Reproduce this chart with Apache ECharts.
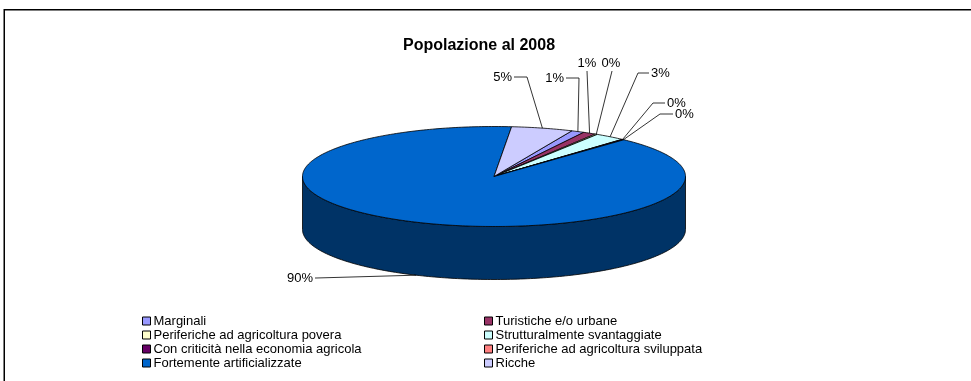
<!DOCTYPE html>
<html>
<head>
<meta charset="utf-8">
<script src="https://cdn.jsdelivr.net/npm/echarts@6/dist/echarts.min.js"></script>
<style>
  html, body { margin: 0; padding: 0; background: #fff; }
  #chart { width: 971px; height: 381px; }
</style>
</head>
<body>
<div id="chart"></div>
<script>
// Population share by area type, 2008 (percent)
const categories = [
  'Marginali',
  'Turistiche e/o urbane',
  'Periferiche ad agricoltura povera',
  'Strutturalmente svantaggiate',
  'Con criticità nella economia agricola',
  'Periferiche ad agricoltura sviluppata',
  'Fortemente artificializzate',
  'Ricche'
];
const shares = [1.1, 1.1, 0.2, 2.6, 0.1, 0.1, 89.6, 5.2];
const colors = ['#9999FF', '#993366', '#FFFFCC', '#CCFFFF', '#660066', '#FF8080', '#0066CC', '#CCCCFF'];
const titleText = 'Popolazione al 2008';

// Tilted pie geometry (pixels)
const PIE = { cx: 494, cy: 176.5, rx: 191.5, ry: 50, depth: 53, startDeg: 66 };
const FONT = 'Liberation Sans, Arial, sans-serif';

// Label placement relative to the pie centre: text anchor (dx, dy), alignment, leader elbow (ex, ey)
const labelLayout = [
  { dx: 70,   dy: -98.5,  align: 'right',  ex: 85,   ey: -98.5 },
  { dx: 93,   dy: -113.5, align: 'center', ex: 93,   ey: -105.5 },
  { dx: 117,  dy: -113.5, align: 'center', ex: 118,  ey: -105.5 },
  { dx: 157,  dy: -103.5, align: 'left',   ex: 144,  ey: -103.5 },
  { dx: 173,  dy: -73.5,  align: 'left',   ex: 159,  ey: -73.5 },
  { dx: 181,  dy: -62.5,  align: 'left',   ex: 166,  ey: -62.5 },
  { dx: -181, dy: 101.5,  align: 'right',  ex: -178, ey: 101.5 },
  { dx: 18,   dy: -99.5,  align: 'right',  ex: 33,   ey: -99.5 }
];

const total = shares.reduce((a, b) => a + b, 0);
const starts = [];
let acc = 0;
shares.forEach(v => { starts.push(PIE.startDeg - acc / total * 360); acc += v; });

function pt(deg, drop) {
  const r = deg * Math.PI / 180;
  return [PIE.cx + PIE.rx * Math.cos(r), PIE.cy - PIE.ry * Math.sin(r) + (drop || 0)];
}
function arc(from, to, drop) {
  const n = Math.max(2, Math.ceil(Math.abs(from - to)) + 1);
  const out = [];
  for (let k = 0; k < n; k++) out.push(pt(from + (to - from) * k / (n - 1), drop));
  return out;
}
function shade(hex, f) {
  const n = parseInt(hex.slice(1), 16);
  const r = Math.round(((n >> 16) & 255) * f);
  const g = Math.round(((n >> 8) & 255) * f);
  const b = Math.round((n & 255) * f);
  return 'rgb(' + r + ',' + g + ',' + b + ')';
}

function sliceRenderer(i) {
  return function (params, api) {
    const v = api.value(0);
    const a0 = starts[i];
    const a1 = a0 - v / total * 360;
    const children = [];
    // visible front wall (lower half of the ellipse)
    for (let k = -2; k <= 1; k++) {
      const lo = -180 + 360 * k, hi = 360 * k;
      const s = Math.min(a0, hi), e = Math.max(a1, lo);
      if (s > e) {
        children.push({
          type: 'polygon', z2: 1,
          shape: { points: arc(s, e, 0).concat(arc(e, s, PIE.depth)) },
          style: { fill: shade(colors[i], 0.5), stroke: '#000', lineWidth: 0.8 }
        });
      }
    }
    // top face
    children.push({
      type: 'polygon', z2: 10,
      shape: { points: [[PIE.cx, PIE.cy]].concat(arc(a0, a1, 0)) },
      style: { fill: colors[i], stroke: '#000', lineWidth: 0.8 }
    });
    // label with leader line
    const mid = (a0 + a1) / 2;
    const front = Math.sin(mid * Math.PI / 180) < 0;
    const anchor = pt(mid, front ? PIE.depth : 0);
    const L = labelLayout[i];
    const tx = PIE.cx + L.dx, ty = PIE.cy + L.dy;
    const elbow = [PIE.cx + L.ex, PIE.cy + L.ey];
    const pts = [anchor, elbow];
    if (L.align === 'left') pts.push([tx - 2, ty]);
    if (L.align === 'right') pts.push([tx + 2, ty]);
    children.push({
      type: 'polyline', z2: 20,
      shape: { points: pts },
      style: { stroke: '#000', lineWidth: 0.8, fill: null }
    });
    children.push({
      type: 'text', z2: 21, x: tx, y: ty,
      style: {
        text: Math.round(v / total * 100) + '%',
        fill: '#000', fontSize: 13, fontFamily: FONT,
        align: L.align, verticalAlign: 'middle'
      }
    });
    return { type: 'group', children: children };
  };
}

const series = categories.map((name, i) => ({
  type: 'custom',
  name: name,
  coordinateSystem: 'none',
  animation: false,
  silent: true,
  itemStyle: { color: colors[i] },
  data: [[shares[i]]],
  renderItem: sliceRenderer(i)
}));

const legendBase = {
  orient: 'vertical', top: 314, padding: 0, itemGap: 0,
  itemWidth: 8, itemHeight: 8, icon: 'rect', selectedMode: false,
  itemStyle: { borderColor: '#000', borderWidth: 1 },
  textStyle: { fontSize: 13, fontFamily: FONT, color: '#000', lineHeight: 14, padding: [0, 0, 0, -2] }
};

const chart = echarts.init(document.getElementById('chart'), null, { renderer: 'canvas' });
chart.setOption({
  animation: false,
  backgroundColor: '#fff',
  title: {
    text: titleText, left: 403, top: 38, padding: 0,
    textStyle: { fontSize: 16, fontWeight: 'bold', fontFamily: FONT, color: '#000' }
  },
  legend: [
    Object.assign({}, legendBase, { left: 142, data: [categories[0], categories[2], categories[4], categories[6]] }),
    Object.assign({}, legendBase, { left: 484, data: [categories[1], categories[3], categories[5], categories[7]] })
  ],
  graphic: [{
    type: 'rect', silent: true, z: 0,
    shape: { x: 4.25, y: 9.75, width: 1000, height: 400 },
    style: { fill: null, stroke: '#000', lineWidth: 1.5 }
  }],
  series: series
});
</script>
</body>
</html>
